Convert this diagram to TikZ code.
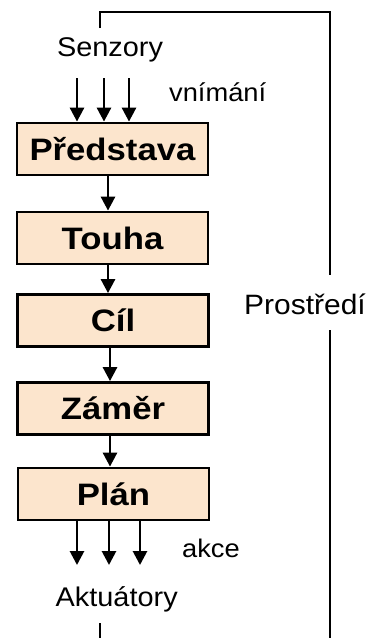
\documentclass[tikz,border=0pt]{standalone}
\usepackage{graphicx}
\usepackage{fontspec}
\setmainfont{Liberation Sans}
\usetikzlibrary{arrows.meta}
\definecolor{peach}{HTML}{FCE5CD}
\newcommand{\boxtxt}[1]{\scalebox{1.12}[1]{#1}}
\newcommand{\lbltxt}[1]{\scalebox{1.07}[1]{#1}}
\tikzset{
  box/.style={draw=black, line width=2.8pt, fill=peach, minimum width=191pt, minimum height=52pt, inner sep=0pt, font=\fontsize{31}{33}\selectfont\bfseries},
  lbl/.style={inner sep=0pt, anchor=base, font=\fontsize{27}{29}\selectfont},
  small/.style={inner sep=0pt, anchor=base, font=\fontsize{25.5}{27}\selectfont},
  arr/.style={line width=2.8pt, -{Triangle[length=14pt,width=14pt]}},
  ln/.style={line width=2.8pt}
}
\begin{document}
\begin{tikzpicture}[x=1pt,y=-1pt]
\useasboundingbox (0,0) rectangle (378,638);
\node[box] (P) at (112.5,149) {\boxtxt{Představa}};
\node[box] (T) at (112.5,238) {\boxtxt{Touha}};
\node[box] (C) at (113,320.5) {\boxtxt{Cíl}};
\node[box] (Z) at (113,408.5) {\boxtxt{Záměr}};
\node[box] (L) at (113.5,494) {\boxtxt{Plán}};
\node[lbl] (S) at (110,56.7) {\lbltxt{Senzory}};
\node[small] (V) at (217.7,101.7) {\lbltxt{vnímání}};
\node[small] (K) at (211,557.3) {\lbltxt{akce}};
\node[lbl] (A) at (116.7,606.7) {\lbltxt{Aktuátory}};
\node[lbl, font=\fontsize{28}{30}\selectfont] (E) at (305,314.3) {\lbltxt{Prostředí}};
% sensor arrows
\coordinate (s1) at (77,78);
\coordinate (s2) at (104,78);
\coordinate (s3) at (129,78);
\draw[arr] (s1) -- (s1 |- P.north);
\draw[arr] (s2) -- (s2 |- P.north);
\draw[arr] (s3) -- (s3 |- P.north);
% chain
\coordinate (c1) at (108,0);
\coordinate (c2) at (110,0);
\draw[arr] (c1 |- P.south) -- (c1 |- T.north);
\draw[arr] (c1 |- T.south) -- (c1 |- C.north);
\draw[arr] (c2 |- C.south) -- (c2 |- Z.north);
\draw[arr] (c2 |- Z.south) -- (c2 |- L.north);
% action arrows
\coordinate (a1) at (77,565);
\coordinate (a2) at (109,565);
\coordinate (a3) at (140,565);
\draw[arr] (a1 |- L.south) -- (a1);
\draw[arr] (a2 |- L.south) -- (a2);
\draw[arr] (a3 |- L.south) -- (a3);
% environment loop
\coordinate (f0) at (100,28);
\coordinate (f1) at (100,12);
\coordinate (f2) at (330,12);
\coordinate (f3) at (330,275);
\coordinate (f4) at (330,330);
\coordinate (f5) at (330,640);
\coordinate (b0) at (100,623);
\coordinate (b1) at (100,640);
\draw[ln] (f0) -- (f1) -- (f2) -- (f3);
\draw[ln] (f4) -- (f5);
\draw[ln] (b0) -- (b1);
\end{tikzpicture}
\end{document}
